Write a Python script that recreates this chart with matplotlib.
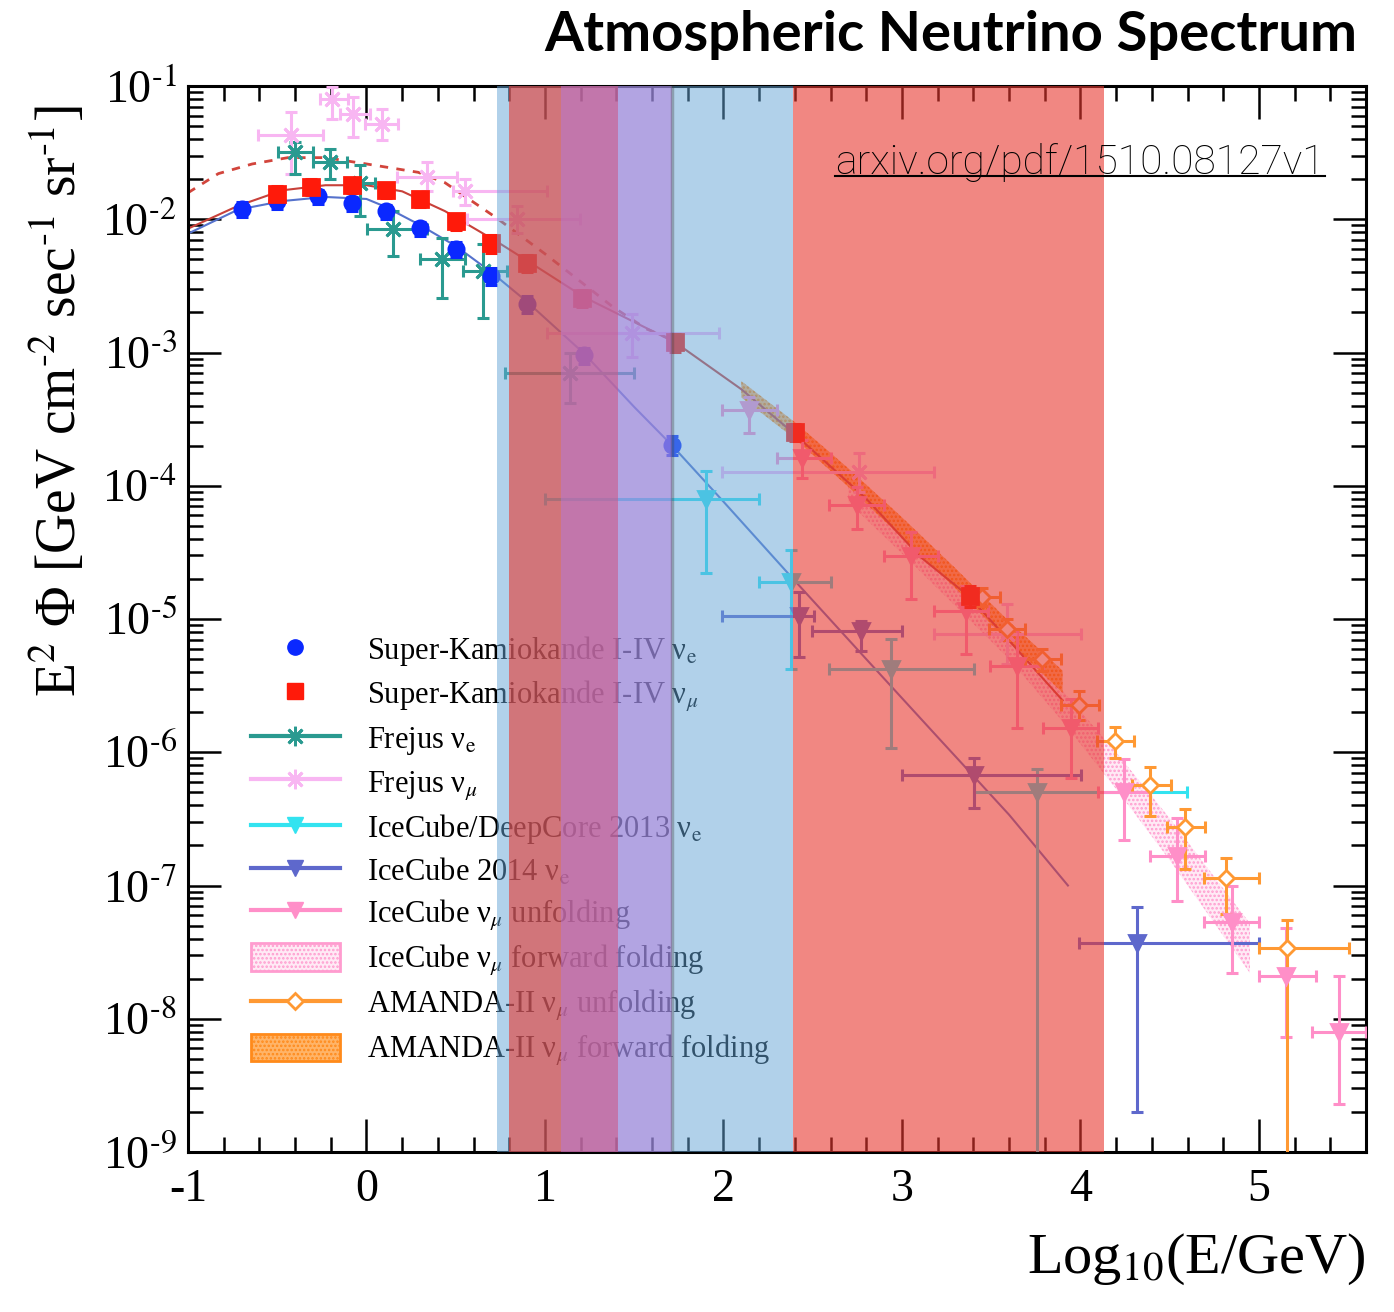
import numpy as np
import matplotlib
matplotlib.use('Agg')
import matplotlib.pyplot as plt
from matplotlib.lines import Line2D
from matplotlib.patches import Patch
from matplotlib.ticker import MultipleLocator, LogLocator, NullFormatter, FuncFormatter

plt.rcParams['font.family'] = ['Liberation Serif', 'DejaVu Serif']
plt.rcParams['mathtext.fontset'] = 'stix'
plt.rcParams['axes.unicode_minus'] = False
plt.rcParams['hatch.linewidth'] = 1.2

# ---- Super-Kamiokande (points, small vertical errors)
sk_e_x = [-0.70, -0.50, -0.27, -0.08, 0.11, 0.30, 0.50, 0.70, 0.90, 1.22, 1.71]
sk_e_y = [0.0119, 0.0136, 0.0149, 0.0132, 0.0115, 0.00857, 0.00597, 0.00376, 0.00232, 0.00095, 0.000202]
sk_e_rel = [0.13, 0.12, 0.12, 0.12, 0.12, 0.12, 0.13, 0.14, 0.14, 0.14, 0.16]
sk_m_x = [-0.50, -0.31, -0.08, 0.11, 0.30, 0.50, 0.70, 0.90, 1.21, 1.73, 2.40, 3.38]
sk_m_y = [0.0156, 0.0176, 0.0182, 0.0167, 0.0141, 0.00966, 0.00662, 0.0047, 0.00257, 0.00119, 0.000253, 1.49e-5]
sk_m_rel = [0.14, 0.13, 0.13, 0.13, 0.13, 0.14, 0.15, 0.15, 0.15, 0.15, 0.15, 0.18]

# ---- Frejus
fr_e_x = [-0.40, -0.205, -0.037, 0.147, 0.421, 0.651, 1.138]
fr_e_xlo = [-0.496, -0.300, -0.110, 0.002, 0.298, 0.539, 0.774]
fr_e_xhi = [-0.300, -0.110, 0.046, 0.337, 0.550, 0.785, 1.501]
fr_e_y = [0.0322, 0.0271, 0.0186, 0.0084, 0.00502, 0.00409, 0.000697]
fr_e_ylo = [0.0220, 0.0202, 0.0105, 0.0053, 0.00257, 0.00182, 0.000416]
fr_e_yhi = [0.0382, 0.0339, 0.0257, 0.0115, 0.0072, 0.0065, 0.000984]

fr_m_x = [-0.424, -0.194, -0.077, 0.086, 0.337, 0.550, 0.841, 1.490, 2.761, 3.589]
fr_m_xlo = [-0.608, -0.261, -0.149, -0.009, 0.170, 0.483, 0.561, 1.009, 1.994, 3.180]
fr_m_xhi = [-0.245, -0.105, 0.018, 0.175, 0.505, 1.009, 1.194, 1.977, 3.180, 4.003]
fr_m_y = [0.043, 0.080, 0.0618, 0.052, 0.0209, 0.0162, 0.010, 0.00139, 1.27e-4, 7.7e-6]
fr_m_ylo = [0.0217, 0.0568, 0.0416, 0.0395, 0.0162, 0.0129, 0.0079, 0.00092, 8.9e-5, 4.6e-6]
fr_m_yhi = [0.064, 0.0983, 0.0828, 0.0673, 0.0271, 0.0202, 0.0125, 0.00195, 1.76e-4, 1.3e-5]

# ---- IceCube/DeepCore 2013 nu_e
dc_x = [1.904, 2.380, 2.940, 3.757]
dc_xlo = [0.998, 2.201, 2.593, 3.404]
dc_xhi = [2.201, 2.604, 3.404, 4.596]
dc_y = [7.9e-5, 1.89e-5, 4.2e-6, 5.0e-7]
dc_ylo = [2.2e-5, 4.2e-6, 1.07e-6, 1e-10]
dc_yhi = [1.3e-4, 3.3e-5, 7.1e-6, 7.5e-7]

# ---- IceCube 2014 nu_e
ic_e_x = [2.425, 2.772, 3.404, 4.316]
ic_e_xlo = [1.994, 2.497, 3.001, 3.992]
ic_e_xhi = [2.509, 3.001, 4.003, 4.999]
ic_e_y = [1.05e-5, 8.1e-6, 6.7e-7, 3.7e-8]
ic_e_ylo = [5.2e-6, 5.8e-6, 3.8e-7, 2.0e-9]
ic_e_yhi = [1.59e-5, 9.7e-6, 9.0e-7, 6.9e-8]

# ---- IceCube nu_mu unfolding
ic_m_x = [2.145, 2.442, 2.749, 3.052, 3.359, 3.645, 3.947, 4.243, 4.540, 4.848, 5.150, 5.447]
ic_m_xlo = [1.994, 2.298, 2.593, 2.900, 3.180, 3.496, 3.793, 4.098, 4.389, 4.691, 4.999, 5.296]
ic_m_xhi = [2.298, 2.605, 2.900, 3.203, 3.480, 3.793, 4.098, 4.389, 4.697, 4.999, 5.318, 5.600]
ic_m_y = [3.69e-4, 1.62e-4, 7.2e-5, 2.95e-5, 1.15e-5, 4.46e-6, 1.51e-6, 5.0e-7, 1.67e-7, 5.3e-8, 2.1e-8, 8.0e-9]
ic_m_ylo = [2.5e-4, 1.15e-4, 4.7e-5, 1.41e-5, 5.5e-6, 1.51e-6, 6.4e-7, 2.2e-7, 7.6e-8, 2.2e-8, 7.3e-9, 2.3e-9]
ic_m_yhi = [4.6e-4, 2.2e-4, 9.8e-5, 4.5e-5, 1.76e-5, 8.4e-6, 2.5e-6, 8.9e-7, 3.2e-7, 1.0e-7, 4.8e-8, 2.1e-8]

# ---- IceCube nu_mu forward folding (band)
ff_x = [2.7, 3.0, 3.3, 3.6, 3.9, 4.2, 4.5, 4.8, 4.95]
ff_lo = [7.5e-5, 3.1e-5, 1.25e-5, 5.0e-6, 1.7e-6, 5.3e-7, 1.55e-7, 4.2e-8, 2.2e-8]
ff_hi = [1.05e-4, 4.5e-5, 1.95e-5, 8.0e-6, 2.9e-6, 1.0e-6, 3.2e-7, 9.5e-8, 5.2e-8]

# ---- AMANDA-II nu_mu unfolding
am_x = [3.449, 3.589, 3.785, 3.992, 4.193, 4.389, 4.585, 4.814, 5.156]
am_xlo = [3.35, 3.49, 3.69, 3.892, 4.093, 4.289, 4.485, 4.691, 4.999]
am_xhi = [3.55, 3.69, 3.89, 4.105, 4.300, 4.507, 4.700, 4.999, 5.503]
am_y = [1.45e-5, 8.4e-6, 5.0e-6, 2.28e-6, 1.21e-6, 5.7e-7, 2.75e-7, 1.13e-7, 3.4e-8]
am_ylo = [1.25e-5, 7.0e-6, 4.1e-6, 1.76e-6, 9.0e-7, 3.3e-7, 1.34e-7, 6.1e-8, 1e-10]
am_yhi = [1.7e-5, 1.0e-5, 6.0e-6, 2.9e-6, 1.54e-6, 7.7e-7, 3.76e-7, 1.62e-7, 5.5e-8]

# ---- AMANDA-II nu_mu forward folding (band)
af_x = [2.1, 2.4, 2.7, 3.0, 3.3, 3.6, 3.9]
af_lo = [4.6e-4, 2.25e-4, 9.8e-5, 4.1e-5, 1.7e-5, 6.7e-6, 2.8e-6]
af_hi = [6.1e-4, 3.0e-4, 1.35e-4, 5.8e-5, 2.4e-5, 9.6e-6, 4.1e-6]

# ---- model curves
mu_x = [-1.0, -0.72, -0.47, -0.23, 0.0, 0.2, 0.44, 0.73, 0.92, 1.22, 1.73, 2.1, 2.39, 2.8, 3.1, 3.37, 3.6, 3.9]
mu_y = [0.0085, 0.0126, 0.0165, 0.018, 0.018, 0.0162, 0.0115, 0.0068, 0.0047, 0.0026, 0.00119, 5.3e-4, 2.5e-4,
        8.0e-5, 2.95e-5, 1.5e-5, 6.9e-6, 2.45e-6]
e_x = [-1.0, -0.72, -0.47, -0.23, 0.0, 0.1, 0.29, 0.5, 0.7, 0.9, 1.22, 1.5, 1.71, 2.0, 2.39, 2.8, 3.2, 3.6, 3.93]
e_y = [0.0078, 0.0118, 0.0137, 0.0147, 0.0142, 0.0125, 0.0092, 0.0063, 0.0040, 0.0024, 0.00098, 3.9e-4, 2.02e-4,
       7.6e-5, 2.0e-5, 5.0e-6, 1.3e-6, 3.4e-7, 1.0e-7]
dash_x = [-1.0, -0.83, -0.64, -0.44, -0.23, 0.0, 0.29, 0.44, 0.73, 1.0, 1.2, 1.38, 1.57, 1.73]
dash_y = [0.0158, 0.022, 0.026, 0.029, 0.029, 0.026, 0.0225, 0.0188, 0.0102, 0.0055, 0.0034, 0.0022, 0.0015, 0.00122]

# ---- shaded energy ranges
blue_span = (0.73, 2.39)
red_spans = [(0.80, 1.41), (2.39, 4.13)]
purple_span = (1.09, 1.71)

c_ske = '#0a28ff'
c_skm = '#ff1a0a'
c_fre = '#2a9a90'
c_frm = '#f8b6f2'
c_dc = '#33e3f0'
c_ice = '#5e68cc'
c_icm = '#ff8fc8'
c_am = '#ff9933'

fig = plt.figure(figsize=(13.94, 13.12), dpi=100)
ax = fig.add_axes([188 / 1394, 1 - 1152 / 1312, 1178 / 1394, 1066 / 1312])


def pts(x, y, ylo, yhi, color, marker, ms, xlo=None, xhi=None, mfc=None, z=3, mew=2):
    x = np.array(x); y = np.array(y)
    xe = None
    if xlo is not None:
        xe = [x - np.array(xlo), np.array(xhi) - x]
    ye = [y - np.array(ylo), np.array(yhi) - y]
    ax.errorbar(x, y, xerr=xe, yerr=ye, fmt='none', ecolor=color, elinewidth=2.2,
                capsize=4, capthick=2.2, zorder=z)
    ax.plot(x, y, ls='none', marker=marker, ms=ms, color=color,
            mfc=mfc if mfc else color, mec=color, mew=mew, zorder=z + 0.1)


# bands (forward folding)
ax.fill_between(ff_x, ff_lo, ff_hi, facecolor='#ffeaf5', edgecolor='#ff9ccf', hatch='....', lw=0, zorder=2)
ax.fill_between(af_x, af_lo, af_hi, facecolor='#ffb468', edgecolor='#ff7f00', hatch='....', lw=0, zorder=2)

# model curves
ax.plot(dash_x, dash_y, color='#d2453c', lw=2, ls=(0, (3, 3)), zorder=2)
ax.plot(mu_x, mu_y, color='#c8413a', lw=1.5, zorder=2)
ax.plot(e_x, e_y, color='#5572cc', lw=1.5, zorder=2)

# data
pts(fr_m_x, fr_m_y, fr_m_ylo, fr_m_yhi, c_frm, (8, 2, 0), 14, fr_m_xlo, fr_m_xhi)
pts(fr_e_x, fr_e_y, fr_e_ylo, fr_e_yhi, c_fre, (8, 2, 0), 14, fr_e_xlo, fr_e_xhi)
pts(dc_x, dc_y, dc_ylo, dc_yhi, c_dc, 'v', 11, dc_xlo, dc_xhi)
pts(ic_e_x, ic_e_y, ic_e_ylo, ic_e_yhi, c_ice, 'v', 11, ic_e_xlo, ic_e_xhi)
pts(ic_m_x, ic_m_y, ic_m_ylo, ic_m_yhi, c_icm, 'v', 11, ic_m_xlo, ic_m_xhi)
pts(am_x, am_y, am_ylo, am_yhi, c_am, 'D', 8, am_xlo, am_xhi, mfc='white', mew=2)
ske_y = np.array(sk_e_y); ske_r = np.array(sk_e_rel)
pts(sk_e_x, ske_y, ske_y * (1 - ske_r), ske_y * (1 + ske_r), c_ske, 'o', 11, z=4)
skm_y = np.array(sk_m_y); skm_r = np.array(sk_m_rel)
pts(sk_m_x, skm_y, skm_y * (1 - skm_r), skm_y * (1 + skm_r), c_skm, 's', 11, z=4)

# highlighted energy ranges drawn on top
ax.axvspan(*blue_span, facecolor='#64a5d7', alpha=0.5, lw=0, zorder=10)
for a, b in red_spans:
    ax.axvspan(a, b, facecolor='#e8382f', alpha=0.6, lw=0, zorder=10)
ax.axvspan(*purple_span, facecolor='#b478dc', alpha=0.5, lw=0, zorder=10)
ax.axvline(purple_span[1], color='#444444', alpha=0.35, lw=2.5, zorder=10)

ax.set_yscale('log')
ax.set_xlim(-1, 5.6)
ax.set_ylim(1e-9, 1e-1)
ax.xaxis.set_major_locator(MultipleLocator(1))
ax.xaxis.set_minor_locator(MultipleLocator(0.2))
ax.yaxis.set_major_locator(LogLocator(base=10, numticks=20))
ax.yaxis.set_minor_locator(LogLocator(base=10, subs=np.arange(2, 10), numticks=100))
ax.yaxis.set_minor_formatter(NullFormatter())
ax.yaxis.set_major_formatter(FuncFormatter(lambda v, p: r'10$^{\text{-%d}}$' % round(-np.log10(v))))
ax.tick_params(which='both', direction='in', top=True, right=True, width=1.8, labelsize=33)
ax.tick_params(which='major', length=24)
ax.tick_params(which='minor', length=11)
ax.tick_params(axis='x', pad=12)
ax.tick_params(axis='y', pad=8)
for s in ax.spines.values():
    s.set_linewidth(2.2)

ax.set_ylabel(r'E$^{2}$ Φ [GeV cm$^{\text{-2}}$ sec$^{\text{-1}}$ sr$^{\text{-1}}$]', fontsize=40)
ax.yaxis.set_label_coords(-0.085, 0.705)
ax.set_xlabel(r'Log$_{10}$(E/GeV)', fontsize=42, loc='right')
ax.xaxis.set_label_coords(1.0, -0.075)

handles = [
    Line2D([0], [0], ls='none', marker='o', ms=11, color=c_ske),
    Line2D([0], [0], ls='none', marker='s', ms=11, color=c_skm),
    Line2D([0], [0], color=c_fre, lw=3, marker=(8, 2, 0), ms=14, mew=2),
    Line2D([0], [0], color=c_frm, lw=3, marker=(8, 2, 0), ms=14, mew=2),
    Line2D([0], [0], color=c_dc, lw=3, marker='v', ms=11),
    Line2D([0], [0], color=c_ice, lw=3, marker='v', ms=11),
    Line2D([0], [0], color=c_icm, lw=3, marker='v', ms=11),
    Patch(facecolor='#ffeaf5', edgecolor='#ff9ccf', hatch='....', lw=2),
    Line2D([0], [0], color=c_am, lw=3, marker='D', ms=8, mfc='white', mew=2),
    Patch(facecolor='#ffb468', edgecolor='#ff8a1a', hatch='....', lw=2),
]
labels = [
    r'Super-Kamiokande I-IV ν$_\mathrm{e}$',
    r'Super-Kamiokande I-IV ν$_\mu$',
    r'Frejus ν$_\mathrm{e}$',
    r'Frejus ν$_\mu$',
    r'IceCube/DeepCore 2013 ν$_\mathrm{e}$',
    r'IceCube 2014 ν$_\mathrm{e}$',
    r'IceCube ν$_\mu$ unfolding',
    r'IceCube ν$_\mu$ forward folding',
    r'AMANDA-II ν$_\mu$ unfolding',
    r'AMANDA-II ν$_\mu$ forward folding',
]
leg = ax.legend(handles, labels, loc='upper left', bbox_to_anchor=(0.0535, 0.4855), frameon=False,
                fontsize=22, handlelength=2.9, handleheight=1.0, handletextpad=0.9,
                labelspacing=0.335, borderpad=0, borderaxespad=0)
leg.set_zorder(5)

fig.text(0.974, 0.973, 'Atmospheric Neutrino Spectrum', family='Lato', weight='bold',
         fontsize=40.5, ha='right', va='center')
link = fig.text(0.9505, 0.8765, 'arxiv.org/pdf/1510.08127v1', family='Roboto', weight='light',
                fontsize=29.3, ha='right', va='center')

fig.canvas.draw()
bb = link.get_window_extent()
inv = fig.transFigure.inverted()
(x0, y0), (x1, _) = inv.transform([(bb.x0, bb.y0 + 6), (bb.x1, bb.y0 + 6)])
fig.add_artist(Line2D([x0, x1], [y0, y0], transform=fig.transFigure, color='black', lw=1.5))

fig.savefig('out.png', dpi=100)
